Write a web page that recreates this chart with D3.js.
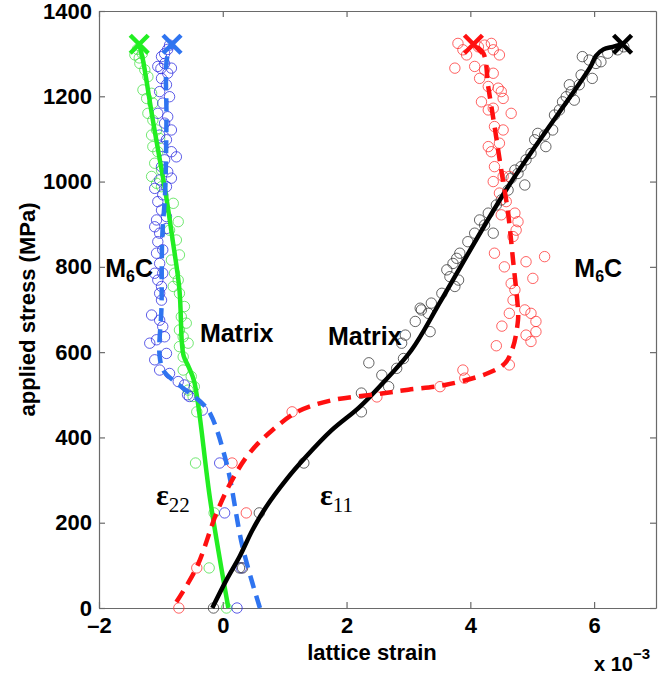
<!DOCTYPE html>
<html>
<head>
<meta charset="utf-8">
<script src="https://cdn.jsdelivr.net/npm/d3@7"></script>
<style>
  html, body { margin: 0; padding: 0; background: #fff; }
  svg text { font-family: "Liberation Sans", Arial, Helvetica, sans-serif; }
</style>
</head>
<body>
<svg id="chart" width="660" height="678"></svg>
<script>
// Axis ticks (strain in units of 1e-3, stress in MPa)
const xTicks = [-2, 0, 2, 4, 6];
const yTicks = [0, 200, 400, 600, 800, 1000, 1200, 1400];

// Fitted trend curves [strain, stress]
const matrix22Fit = [[0.09,0],[-0.20,250],[-0.46,530],[-0.55,565],[-0.63,590],[-0.66,620],[-0.70,746],[-0.81,863],[-0.92,970],[-1.13,1144],[-1.29,1285],[-1.35,1322]];
const m6c22Fit = [[0.60,0],[0.32,143],[0.06,340],[-0.20,455],[-0.34,481],[-0.54,504],[-0.75,528],[-0.95,555],[-1.02,590],[-0.99,706],[-0.98,863],[-0.93,980],[-0.91,1144],[-0.90,1290],[-0.82,1322]];
const matrix11Fit = [[-0.17,0],[0.06,66],[0.27,120],[0.48,183],[0.70,237],[1.02,300],[1.34,354],[1.76,417],[2.20,470],[2.55,522],[3.05,605],[3.53,722],[4.61,988],[5.94,1269],[6.03,1295],[6.15,1310],[6.30,1316],[6.46,1322]];
const m6c11Fit = [[-0.75,14],[-0.42,96],[-0.10,223],[0.15,300],[0.43,363],[0.80,417],[1.23,462],[1.76,487],[2.52,502],[3.00,512],[3.59,523],[4.29,551],[4.56,574],[4.69,612],[4.77,675],[4.77,699],[4.69,816],[4.61,926],[4.50,1027],[4.40,1121],[4.29,1222],[4.21,1301],[4.05,1322]];

// Failure points (last measured load)
const matrix22End = [-1.35, 1322];
const m6c22End = [-0.82, 1322];
const matrix11End = [6.46, 1322];
const m6c11End = [4.05, 1322];

// Measured lattice strains [strain, stress]
const matrix22Pts = [[0.06,0],[-0.22,94],[-0.14,223],[-0.44,340],[-0.42,460],
  [-0.48,496],[-0.46,519],[-0.56,511],[-0.51,543],[-0.64,558],[-0.64,589],[-0.56,621],[-0.70,613],[-0.64,636],[-0.70,652],[-0.59,668],[-0.67,683],[-0.62,707],[-0.70,738],[-0.80,754],[-0.72,769],[-0.78,785],[-0.70,828],[-0.83,816],[-0.75,863],[-0.86,886],[-0.72,906],[-0.80,949],
  [-0.99,988],[-1.07,996],[-1.15,1012],[-0.99,1027],[-1.10,1043],[-1.05,1070],[-1.13,1082],[-1.02,1101],[-1.15,1109],[-1.07,1121],[-1.13,1144],[-1.21,1160],[-1.13,1184],[-1.23,1195],[-1.15,1207],[-1.29,1215],[-1.21,1246],[-1.26,1262],[-1.34,1277],[-1.35,1290],[-1.42,1297],[-1.30,1300],[-1.38,1310]];
const m6c22Pts = [[0.23,0],[0.30,94],[0.03,223],[-0.05,340],[-0.33,464],[-0.57,500],[-0.62,523],
  [-0.54,496],[-0.72,531],[-0.86,550],[-1.02,558],[-1.10,582],[-0.91,597],[-1.18,621],[-1.07,629],[-0.94,636],[-0.97,660],[-1.02,675],[-1.15,687],[-0.99,722],[-1.02,738],[-0.99,754],[-1.05,769],[-1.10,785],[-0.97,785],[-1.02,808],[-1.07,832],[-0.97,840],[-1.05,859],[-1.02,879],[-0.91,890],[-1.10,894],[-1.07,910],[-0.91,918],[-0.99,933],[-1.05,953],[-0.97,969],[-1.10,984],[-0.91,988],[-1.02,1004],[-0.83,1008],[-0.89,1023],[-0.99,1035],[-0.94,1051],[-0.75,1058],[-0.83,1070],[-0.97,1082],[-0.91,1098],[-1.02,1109],[-0.83,1121],[-0.94,1137],[-0.89,1152],[-1.05,1160],[-0.97,1184],[-0.86,1199],[-1.02,1211],[-0.91,1227],[-0.99,1242],[-0.89,1254],[-1.00,1265],[-0.83,1266],[-1.05,1270],[-0.94,1277],[-0.99,1293],[-0.94,1300],[-0.89,1310],[-0.86,1320]];
const matrix11Pts = [[-0.15,0],[0.27,94],[0.32,94],[0.59,223],[1.31,340],[2.24,460],[2.24,504],[2.68,519],[2.57,546],[2.81,562],[2.36,575],[2.92,585],[2.89,621],[2.95,640],[3.35,648],[3.11,672],[3.32,691],[3.19,703],[3.21,699],[3.37,715],[3.54,738],[3.75,754],[3.81,769],[3.67,777],[3.62,793],[3.72,808],[3.78,820],[3.83,832],[3.96,859],[4.07,879],[4.37,879],[4.23,898],[4.15,910],[4.29,926],[4.42,945],[4.50,957],[4.61,980],[4.88,992],[4.66,1008],[4.77,1019],[4.72,1027],[4.82,1035],[4.90,1051],[4.98,1066],[5.22,1082],[5.04,1098],[5.20,1109],[5.09,1113],[5.33,1121],[5.36,1156],[5.44,1168],[5.49,1187],[5.68,1191],[5.55,1199],[5.63,1211],[5.60,1227],[5.76,1227],[5.97,1242],[5.79,1250],[6.03,1277],[6.11,1281],[5.92,1285],[5.81,1293],[6.22,1301],[6.38,1309],[6.48,1316]];
const m6c11Pts = [[-0.71,0],[-0.42,94],[0.38,223],[0.15,340],[1.12,460],[2.49,495],
  [3.51,519],[3.91,539],[3.88,558],[4.63,570],[4.42,615],[4.98,625],[4.90,640],[5.06,648],[4.51,661],[5.06,672],[4.63,691],[4.98,691],[4.88,699],[4.69,722],[4.72,746],[4.66,761],[5.01,773],[4.55,800],[4.90,812],[5.20,824],[4.39,832],[4.69,871],[4.74,886],[4.77,906],[4.50,922],[4.72,926],[4.58,953],[4.47,973],[4.37,1000],[4.53,1012],[4.63,1012],[4.39,1035],[4.34,1070],[4.29,1082],[4.47,1090],[4.53,1121],[4.39,1129],[4.66,1160],[4.29,1168],[4.37,1172],[4.18,1187],[4.53,1195],[4.50,1211],[4.45,1219],[4.29,1223],[4.15,1242],[4.37,1254],[4.23,1262],[3.75,1266],[4.07,1270],[3.94,1297],[4.47,1297],[3.88,1309],[4.37,1309],[4.13,1316],[4.23,1320],[3.80,1324],[4.34,1324]];

const svg = d3.select("#chart");
const plotLeft = 99, plotRight = 656, plotTop = 11, plotBottom = 608;

const x = d3.scaleLinear().domain([-2, 7]).range([plotLeft, plotRight]);
const y = d3.scaleLinear().domain([0, 1400]).range([plotBottom, plotTop]);

const axisColor = "#6a6a6a";
const tickLen = 6;

// Axes (ticks inward on all four sides, MATLAB style)
const axBottom = svg.append("g").attr("transform", `translate(0,${plotBottom})`)
  .call(d3.axisBottom(x).tickValues(xTicks).tickSizeInner(-tickLen).tickSizeOuter(0).tickPadding(9)
    .tickFormat(d => d < 0 ? "\u2013" + Math.abs(d) : d));
const axLeft = svg.append("g").attr("transform", `translate(${plotLeft},0)`)
  .call(d3.axisLeft(y).tickValues(yTicks).tickSizeInner(-tickLen).tickSizeOuter(0).tickPadding(7)
    .tickFormat(d3.format("d")));
const axTop = svg.append("g").attr("transform", `translate(0,${plotTop})`)
  .call(d3.axisTop(x).tickValues(xTicks).tickSizeInner(-tickLen).tickSizeOuter(0).tickFormat(""));
const axRight = svg.append("g").attr("transform", `translate(${plotRight},0)`)
  .call(d3.axisRight(y).tickValues(yTicks).tickSizeInner(-tickLen).tickSizeOuter(0).tickFormat(""));

[axBottom, axLeft, axTop, axRight].forEach(g => {
  g.selectAll("path.domain").attr("stroke", axisColor).attr("stroke-width", 1.2);
  g.selectAll(".tick line").attr("stroke", axisColor).attr("stroke-width", 1.2);
  g.selectAll(".tick text").attr("fill", "#000").style("font-size", "22px").style("font-weight", "bold")
    .style("font-family", '"Liberation Sans", Arial, sans-serif');
});
axBottom.selectAll(".tick text").attr("dy", "0.71em");

// Axis titles
svg.append("text").attr("x", 372).attr("y", 660).attr("text-anchor", "middle")
  .style("font-size", "22px").style("font-weight", "bold").text("lattice strain");
svg.append("text").attr("transform", `translate(35,${(plotTop + plotBottom) / 2}) rotate(-90)`)
  .attr("text-anchor", "middle").style("font-size", "22px").style("font-weight", "bold")
  .text("applied stress (MPa)");
const expo = svg.append("text").attr("x", 594).attr("y", 671)
  .style("font-size", "20px").style("font-weight", "bold");
expo.append("tspan").text("x 10");
expo.append("tspan").attr("dy", -12).style("font-size", "15px").text("\u22123");

const g = svg.append("g");

// Measured points
const series = [
  { pts: matrix22Pts, color: "#44e044" },
  { pts: m6c22Pts, color: "#2a2ae0" },
  { pts: matrix11Pts, color: "#333333" },
  { pts: m6c11Pts, color: "#ff3030" }
];
series.forEach(s => {
  g.append("g").selectAll("circle").data(s.pts).join("circle")
    .attr("cx", d => x(d[0])).attr("cy", d => y(d[1])).attr("r", 5.2)
    .attr("fill", "none").attr("stroke", s.color).attr("stroke-width", 0.9).attr("stroke-opacity", 0.85);
});

// Trend curves
const line = d3.line().x(d => x(d[0])).y(d => y(d[1])).curve(d3.curveCatmullRom.alpha(0.5));
const fits = [
  { d: matrix22Fit, color: "#22ee22", dash: null },
  { d: m6c22Fit, color: "#2f74f0", dash: "13,8" },
  { d: matrix11Fit, color: "#000000", dash: null },
  { d: m6c11Fit, color: "#ff1010", dash: "13,8" }
];
fits.forEach(f => {
  g.append("path").datum(f.d).attr("d", line).attr("fill", "none")
    .attr("stroke", f.color).attr("stroke-width", 4.5)
    .attr("stroke-dasharray", f.dash);
});

// Failure markers
const ends = [
  { p: matrix22End, color: "#22ee22" },
  { p: m6c22End, color: "#2f74f0" },
  { p: matrix11End, color: "#000000" },
  { p: m6c11End, color: "#ff1010" }
];
const mk = 9;
ends.forEach(e => {
  const cx = x(e.p[0]), cy = y(e.p[1]);
  g.append("path")
    .attr("d", `M${cx - mk},${cy - mk}L${cx + mk},${cy + mk}M${cx - mk},${cy + mk}L${cx + mk},${cy - mk}`)
    .attr("stroke", e.color).attr("stroke-width", 4.5).attr("fill", "none");
});

// Phase labels
function phaseLabel(px, py, sub) {
  const t = svg.append("text").attr("x", px).attr("y", py)
    .style("font-size", "25px").style("font-weight", "bold").attr("fill", "#000");
  if (sub) {
    t.append("tspan").text("M");
    t.append("tspan").attr("dy", 5).style("font-size", "16px").text("6");
    t.append("tspan").attr("dy", -5).text("C");
  } else {
    t.text("Matrix");
  }
}
phaseLabel(x(-1.9), y(776), true);
phaseLabel(x(-0.37), y(623), false);
phaseLabel(x(1.70), y(616), false);
phaseLabel(x(5.68), y(776), true);

// Strain component labels
function strainLabel(px, py, sub) {
  const t = svg.append("text").attr("x", px).attr("y", py)
    .style("font-family", '"Liberation Serif", "Times New Roman", serif').style("font-weight", "bold")
    .style("font-size", "30px").attr("fill", "#000");
  t.append("tspan").text("\u03b5");
  t.append("tspan").attr("dy", 7).style("font-size", "21px").style("font-weight", "normal").text(sub);
}
strainLabel(x(-1.08), y(242), "22");
strainLabel(x(1.57), y(242), "11");
</script>
</body>
</html>
